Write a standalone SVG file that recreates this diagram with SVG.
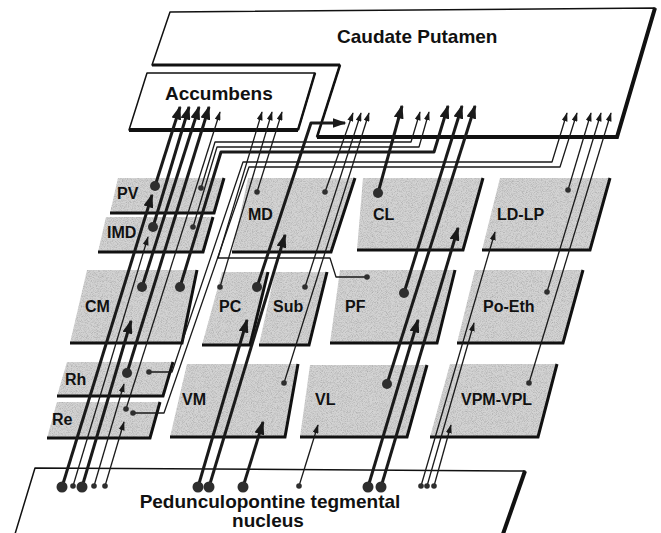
<svg xmlns="http://www.w3.org/2000/svg" width="661" height="533" viewBox="0 0 661 533">
<style>
.box{fill:#d3d3d3;filter:url(#grain)}
.edge{fill:none;stroke:#111;stroke-width:3}
.lbl{font-family:"Liberation Sans",Arial,sans-serif;font-weight:bold;font-size:16px;fill:#111}
.ttl{font-family:"Liberation Sans",Arial,sans-serif;font-weight:bold;font-size:19px;fill:#111}
.wbox{fill:#fff;stroke:#111;stroke-width:1.5;stroke-linejoin:round}
.thk{fill:none;stroke:#111;stroke-width:4}
.tk{fill:none;stroke:#1a1a1a;stroke-width:3;stroke-linejoin:round;marker-end:url(#ab)}
.tn{fill:none;stroke:#1a1a1a;stroke-width:1.3;stroke-linejoin:round;marker-end:url(#as)}
.dot{fill:#2e2e2e}
</style>
<defs>
<filter id="grain" x="0" y="0" width="100%" height="100%">
<feTurbulence type="fractalNoise" baseFrequency="1.2" numOctaves="1" seed="7" result="t"/>
<feColorMatrix in="t" type="matrix" values="0 0 0 0 0  0 0 0 0 0  0 0 0 0 0  0.9 0 0 0 -0.38" result="s"/>
<feComposite in="s" in2="SourceGraphic" operator="in" result="sp"/>
<feMerge><feMergeNode in="SourceGraphic"/><feMergeNode in="sp"/></feMerge>
</filter>
<marker id="ab" markerUnits="userSpaceOnUse" viewBox="0 0 14 10" markerWidth="14" markerHeight="10" refX="12.5" refY="5" orient="auto"><path d="M0,0 L14,5 L0,10 Z" fill="#1a1a1a"/></marker>
<marker id="as" markerUnits="userSpaceOnUse" viewBox="0 0 9 6" markerWidth="9" markerHeight="6" refX="8.3" refY="3" orient="auto"><path d="M0,0 L9,3 L0,6 Z" fill="#1a1a1a"/></marker>
</defs>

<g id="caudate-putamen">
<polygon class="wbox" points="170,12 655,8 617,137 317,137 340,65 152,65"/>
<polyline class="thk" points="655,8 617,137 317,137"/>
<line class="thk" x1="152" y1="65" x2="340" y2="65" style="stroke-width:3"/>
<line class="thk" x1="340" y1="65" x2="317" y2="137" style="stroke-width:2.5"/>
<text class="ttl" x="337" y="43">Caudate Putamen</text>
</g>

<g id="accumbens">
<polygon class="wbox" points="147,73 315,73 298,130 129,130"/>
<line class="thk" x1="129" y1="130" x2="298" y2="130"/>
<line class="thk" x1="315" y1="73" x2="298" y2="130" style="stroke-width:2.5"/>
<text class="ttl" x="165" y="100">Accumbens</text>
</g>

<g id="pedunculopontine">
<polygon class="wbox" points="35,468 525,471 503,534 15,534"/>
<line class="thk" x1="525" y1="471" x2="503" y2="534"/>
<text class="ttl" x="270" y="508" text-anchor="middle">Pedunculopontine tegmental</text>
<text class="ttl" x="268" y="527" text-anchor="middle">nucleus</text>
</g>

<g id="PV"><polygon class="box" points="118,178 224,178 214,213 110,213"/><polyline class="edge" points="224,178 214,213 110,213"/><text class="lbl" x="117" y="199">PV</text></g>
<g id="IMD"><polygon class="box" points="106,217 213,217 203,252 98,252"/><polyline class="edge" points="213,217 203,252 98,252"/><text class="lbl" x="107" y="238">IMD</text></g>
<g id="CM"><polygon class="box" points="87,270 197,270 182,343 70,343"/><polyline class="edge" points="197,270 182,343 70,343"/><text class="lbl" x="85" y="312">CM</text></g>
<g id="Rh"><polygon class="box" points="67,362 173,362 163,396 57,396"/><polyline class="edge" points="173,362 163,396 57,396"/><text class="lbl" x="65" y="385">Rh</text></g>
<g id="Re"><polygon class="box" points="57,402 160,402 150,438 47,438"/><polyline class="edge" points="160,402 150,438 47,438"/><text class="lbl" x="52" y="425">Re</text></g>

<g id="MD"><polygon class="box" points="248,178 355,178 331,252 232,252"/><polyline class="edge" points="355,178 331,252 232,252"/><text class="lbl" x="248" y="220">MD</text></g>
<g id="PC"><polygon class="box" points="222,272 268,272 250,345 202,345"/><polyline class="edge" points="268,272 250,345 202,345"/><text class="lbl" x="219" y="312">PC</text></g>
<g id="Sub"><polygon class="box" points="275,272 327,272 309,345 259,345"/><polyline class="edge" points="327,272 309,345 259,345"/><text class="lbl" x="273" y="312">Sub</text></g>
<g id="VM"><polygon class="box" points="187,364 298,364 285,437 170,437"/><polyline class="edge" points="298,364 285,437 170,437"/><text class="lbl" x="182" y="405">VM</text></g>

<g id="CL"><polygon class="box" points="363,178 483,178 463,250 357,250"/><polyline class="edge" points="483,178 463,250 357,250"/><text class="lbl" x="373" y="220">CL</text></g>
<g id="PF"><polygon class="box" points="340,270 455,270 437,343 330,343"/><polyline class="edge" points="455,270 437,343 330,343"/><text class="lbl" x="345" y="312">PF</text></g>
<g id="VL"><polygon class="box" points="310,365 427,365 407,437 300,437"/><polyline class="edge" points="427,365 407,437 300,437"/><text class="lbl" x="315" y="405">VL</text></g>

<g id="LD-LP"><polygon class="box" points="500,178 610,178 590,250 482,250"/><polyline class="edge" points="610,178 590,250 482,250"/><text class="lbl" x="497" y="220">LD-LP</text></g>
<g id="Po-Eth"><polygon class="box" points="475,270 583,270 563,343 457,343"/><polyline class="edge" points="583,270 563,343 457,343"/><text class="lbl" x="483" y="312">Po-Eth</text></g>
<g id="VPM-VPL"><polygon class="box" points="450,364 557,364 538,437 430,437"/><polyline class="edge" points="557,364 538,437 430,437"/><text class="lbl" x="461" y="405">VPM-VPL</text></g>

<g id="connectors">
<!-- PPT to thalamic nuclei -->
<path class="tk" d="M62,487 L152,195"/>
<path class="tn" d="M73,486 L148,237"/>
<path class="tk" d="M82,487 L131,321"/>
<path class="tn" d="M94,486 L124,384"/>
<path class="tn" d="M105,486 L124,422"/>
<path class="tk" d="M198,487 L247,320"/>
<path class="tk" d="M209,487 L285,235"/>
<path class="tk" d="M243,487 L263,422"/>
<path class="tn" d="M299,486 L318,425"/>
<path class="tk" d="M368,487 L418,320"/>
<path class="tk" d="M381,487 L458,228"/>
<path class="tn" d="M421,486 L495,232"/>
<path class="tn" d="M427,486 L474,323"/>
<path class="tn" d="M434,486 L451,425"/>
<!-- thalamic nuclei to striatum -->
<path class="tk" d="M155,186 L180,107"/>
<path class="tk" d="M153,227 L189,107"/>
<path class="tk" d="M142,287 L199,107"/>
<path class="tk" d="M127,373 L209,107"/>
<path class="tn" d="M126,409 L220,112"/>
<path class="tn" d="M367,277 H336 L330,258 H218 L262,112"/>
<path class="tn" d="M220,287 L272,112"/>
<path class="tn" d="M257,192 L282,112"/>
<path class="tn" d="M325,192 L353,113"/>
<path class="tn" d="M305,287 L361,113"/>
<path class="tn" d="M284,383 L369,113"/>
<path class="tk" d="M257,287 L311,123 H345"/>
<path class="tk" d="M378,193 L402,106"/>
<path class="tk" d="M404,293 L462,106"/>
<path class="tk" d="M387,384 L475,106"/>
<path class="tn" d="M568,190 L591,113"/>
<path class="tn" d="M547,292 L601,113"/>
<path class="tn" d="M529,383 L611,113"/>
<path class="tn" d="M201,188 L215,142 H411 L420,112"/>
<path class="tn" d="M193,227 L217,147 H419 L429,112"/>
<path class="tk" d="M180,287 L221,152 H434 L448,106"/>
<path class="tn" d="M149,372 H172 L243,162 H552 L567,113"/>
<path class="tn" d="M133,413 H164 L249,167 H560 L577,113"/>
<!-- origin dots -->
<g class="dot">
<circle cx="62" cy="487" r="5.5"/><circle cx="82" cy="487" r="5.5"/><circle cx="198" cy="487" r="5.5"/><circle cx="209" cy="487" r="5.5"/><circle cx="243" cy="487" r="5.5"/><circle cx="368" cy="487" r="5.5"/><circle cx="381" cy="487" r="5.5"/>
<circle cx="73" cy="486" r="2.8"/><circle cx="94" cy="486" r="2.8"/><circle cx="105" cy="486" r="2.8"/><circle cx="299" cy="486" r="2.8"/><circle cx="421" cy="486" r="2.8"/><circle cx="427" cy="486" r="2.8"/><circle cx="434" cy="486" r="2.8"/>
<circle cx="155" cy="186" r="5"/><circle cx="153" cy="227" r="5"/><circle cx="142" cy="287" r="5"/><circle cx="180" cy="287" r="5"/><circle cx="127" cy="373" r="5"/><circle cx="257" cy="287" r="5"/><circle cx="378" cy="193" r="5"/><circle cx="404" cy="293" r="5"/><circle cx="387" cy="384" r="5"/>
<circle cx="201" cy="188" r="2.8"/><circle cx="193" cy="227" r="2.8"/><circle cx="149" cy="372" r="2.8"/><circle cx="126" cy="409" r="2.8"/><circle cx="133" cy="413" r="2.8"/><circle cx="257" cy="192" r="2.8"/><circle cx="325" cy="192" r="2.8"/><circle cx="220" cy="287" r="2.8"/><circle cx="305" cy="287" r="2.8"/><circle cx="367" cy="277" r="2.8"/><circle cx="568" cy="190" r="2.8"/><circle cx="547" cy="292" r="2.8"/><circle cx="284" cy="383" r="2.8"/><circle cx="529" cy="383" r="2.8"/>
</g>
</g>
</svg>
